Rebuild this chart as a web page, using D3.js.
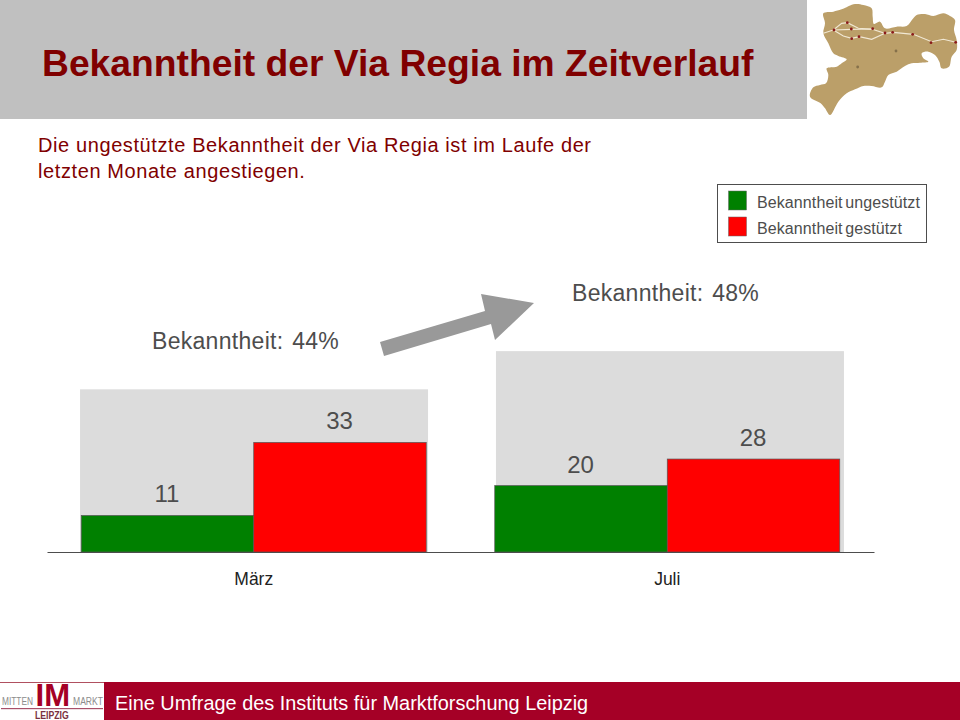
<!DOCTYPE html>
<html><head><meta charset="utf-8">
<script src="https://cdn.jsdelivr.net/npm/d3@7/dist/d3.min.js"></script>
<style>html,body{margin:0;padding:0;background:#fff}svg{display:block}text{font-family:"Liberation Sans",Arial,sans-serif}</style>
</head><body><svg id="c" width="960" height="720"></svg>
<script>
const months = ["März", "Juli"];
const seriesNames = ["Bekanntheit ungestützt", "Bekanntheit gestützt"];
const unaided = [11, 20];
const aided = [33, 28];
const backdrop = [49, 60.5];
const totals = ["Bekanntheit: 44%", "Bekanntheit: 48%"];
const colors = ["#008000", "#ff0000"];
const title = "Bekanntheit der Via Regia im Zeitverlauf";
const subtitle = ["Die ungestützte Bekanntheit der Via Regia ist im Laufe der", "letzten Monate angestiegen."];
const footer = "Eine Umfrage des Instituts für Marktforschung Leipzig";
const mapOutline = [[70,40],[100,35],[125,28],[165,12],[190,15],[215,25],[218,50],[222,72],[240,65],[255,85],[290,80],[320,78],[340,55],[350,45],[375,42],[400,48],[430,40],[450,48],[465,60],[462,90],[470,120],[470,150],[455,170],[447,200],[425,205],[418,185],[405,165],[385,155],[365,160],[370,175],[385,185],[360,188],[335,190],[315,198],[290,215],[265,225],[255,245],[245,262],[215,258],[190,258],[165,268],[140,280],[115,305],[90,345],[75,325],[62,310],[30,290],[40,262],[60,255],[78,250],[85,225],[80,205],[110,200],[125,190],[140,178],[115,168],[100,160],[85,130],[70,100],[75,70]];
const mapRouteA = [[70,100],[100,90],[155,88],[215,87],[255,100],[280,97],[340,103],[395,125],[430,118],[468,127]];
const mapRouteB = [[100,90],[125,70],[142,68],[175,85],[220,88]];
const mapRouteC = [[100,90],[130,108],[155,115],[178,110],[215,118],[255,100]];
const mapTowns = [[102,90],[142,68],[154,87],[155,116],[177,110],[218,86],[255,99],[278,97],[338,103],[393,128],[467,127]];
const mapOther = [[173,201],[288,153]];

const svg = d3.select("#c");
const x0 = d3.scaleBand().domain(months).range([47, 874]).paddingInner(0.1657).paddingOuter(0.0828);
const x1 = d3.scaleBand().domain([0, 1]).range([0, x0.bandwidth()]);
const y = d3.scaleLinear().domain([0, 60]).range([552, 552 - 60 * 3.32]);

// header
svg.append("rect").attr("x", 0).attr("y", 0).attr("width", 807).attr("height", 119).attr("fill", "#c0c0c0");
svg.append("text").attr("x", 42).attr("y", 76).attr("font-size", 37.25).attr("font-weight", "bold").attr("fill", "#800000").text(title);
svg.selectAll(".sub").data(subtitle).join("text").attr("class", "sub").attr("x", 38).attr("y", (d, i) => 152 + i * 26)
  .attr("font-size", 20).attr("letter-spacing", 0.6).attr("fill", "#800000").text(d => d);

// map
const mx = d3.scaleLinear().domain([0, 160 * 3]).range([800, 960]);
const my = d3.scaleLinear().domain([0, 125 * 3]).range([0, 125]);
const mapLine = d3.line().x(d => mx(d[0])).y(d => my(d[1]));
const map = svg.append("g");
map.append("path").attr("d", mapLine.curve(d3.curveCatmullRomClosed)(mapOutline)).attr("fill", "#bb9f69");
mapLine.curve(d3.curveLinear);
[mapRouteA, mapRouteB, mapRouteC].forEach(r => map.append("path").attr("d", mapLine(r)).attr("fill", "none").attr("stroke", "#f1e8d4").attr("stroke-width", 1.1));
map.selectAll(".town").data(mapTowns).join("circle").attr("class", "town").attr("cx", d => mx(d[0])).attr("cy", d => my(d[1])).attr("r", 1.4).attr("fill", "#8a1a1a");
map.selectAll(".oth").data(mapOther).join("circle").attr("class", "oth").attr("cx", d => mx(d[0])).attr("cy", d => my(d[1])).attr("r", 1.4).attr("fill", "#85704a");

// backdrops
svg.selectAll(".bd").data(months).join("rect").attr("class", "bd")
  .attr("x", (d, i) => x0(d) + (i ? 1.2 : -1.2)).attr("width", x0.bandwidth() + 3)
  .attr("y", (d, i) => y(backdrop[i])).attr("height", (d, i) => y(0) - y(backdrop[i])).attr("fill", "#dcdcdc");

// bars
[unaided, aided].forEach((vals, s) => {
  svg.selectAll(".b" + s).data(vals).join("rect").attr("class", "b" + s)
    .attr("x", (d, i) => x0(months[i]) + x1(s)).attr("width", x1.bandwidth())
    .attr("y", d => y(d)).attr("height", d => y(0) - y(d))
    .attr("fill", colors[s]).attr("stroke", "#555").attr("stroke-width", 0.7);
  svg.selectAll(".l" + s).data(vals).join("text").attr("class", "l" + s)
    .attr("x", (d, i) => x0(months[i]) + x1(s) + x1.bandwidth() / 2 - 0.5)
    .attr("y", d => y(d) - 13).attr("text-anchor", "middle").attr("font-size", 24).attr("fill", "#4d4d4d").text(d => d);
});

// axis
const axis = svg.append("g").attr("transform", "translate(0,552)").call(d3.axisBottom(x0).tickSize(0).tickPadding(20.5));
axis.select(".domain").attr("stroke", "#4d4d4d").attr("stroke-width", 1);
axis.selectAll("text").attr("font-family", '"Liberation Sans",Arial,sans-serif').attr("font-size", 17.5).attr("fill", "#222");

// totals
svg.selectAll(".tot").data(totals).join("text").attr("class", "tot")
  .attr("x", (d, i) => i ? 572 : 152).attr("y", (d, i) => i ? 301 : 349)
  .attr("font-size", 23).attr("letter-spacing", 0.3).attr("word-spacing", 2).attr("fill", "#4d4d4d").text(d => d);

// arrow
svg.append("polygon").attr("points", "380,342 485,311 481,294 534,303 495,340 491,324 384,356").attr("fill", "#999999");

// legend
svg.append("rect").attr("x", 717.5).attr("y", 184.5).attr("width", 209).attr("height", 58).attr("fill", "#fff").attr("stroke", "#4d4d4d").attr("stroke-width", 1);
seriesNames.forEach((n, i) => {
  svg.append("rect").attr("x", 728.5).attr("y", 191 + i * 26).attr("width", 18).attr("height", 19).attr("fill", colors[i]).attr("stroke", "#666").attr("stroke-width", 0.5);
  svg.append("text").attr("x", 757).attr("y", 207.5 + i * 26).attr("font-size", 16).attr("word-spacing", -2).attr("letter-spacing", 0.1).attr("fill", "#4d4d4d").text(n);
});

// footer
svg.append("rect").attr("x", 104).attr("y", 682).attr("width", 856).attr("height", 38).attr("fill", "#a50026");
svg.append("text").attr("x", 115).attr("y", 710).attr("font-size", 19.9).attr("fill", "#fff").text(footer);
svg.append("rect").attr("x", 0).attr("y", 682).attr("width", 104).attr("height", 1).attr("fill", "#b05060");
svg.append("text").attr("x", 35.5).attr("y", 705.5).attr("font-size", 32).attr("font-weight", "bold").attr("fill", "#a50026").attr("textLength", 34.5).attr("lengthAdjust", "spacingAndGlyphs").text("IM");
svg.append("text").attr("transform", "translate(2,705) scale(0.76,1)").attr("font-size", 11).attr("fill", "#8c8c8c").text("MITTEN");
svg.append("text").attr("transform", "translate(73,705) scale(0.78,1)").attr("font-size", 11).attr("fill", "#8c8c8c").text("MARKT");
svg.append("rect").attr("x", 1).attr("y", 708).attr("width", 102).attr("height", 1.2).attr("fill", "#a8506a");
svg.append("text").attr("transform", "translate(35,718.5) scale(0.87,1)").attr("font-size", 10).attr("font-weight", "bold").attr("fill", "#7a3040").text("LEIPZIG");
</script></body></html>
